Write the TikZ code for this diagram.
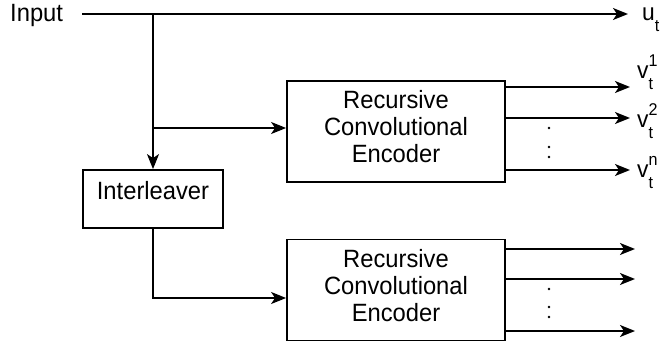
\documentclass[tikz,border=0pt]{standalone}
\usepackage{fontspec}
\setmainfont{Liberation Sans}[FakeStretch=0.95]
\usetikzlibrary{arrows.meta}
% symbol with a superscript and a subscript set one above the other
\newcommand\subsup[3]{#1\rlap{\raisebox{12pt}{\fontsize{17}{17}\selectfont #2}}\raisebox{-11pt}{\fontsize{17}{17}\selectfont #3}}

\begin{document}
\begin{tikzpicture}[x=1pt,y=-1pt,
  wire/.style={line width=1.8pt},
  flow/.style={wire,-{Stealth[length=15pt,width=12pt,inset=4pt]}},
  encbox/.style={draw,line width=1.8pt,minimum width=218pt,minimum height=101pt,inner sep=0pt},
  ilvbox/.style={draw,line width=1.8pt,minimum width=140pt,minimum height=58pt,inner sep=0pt},
  txt/.style={font=\fontsize{25}{27}\selectfont,inner sep=0pt},
  lab/.style={font=\fontsize{24}{27}\selectfont,inner sep=0pt},
  dot/.style={fill=black}]
\useasboundingbox (0,0) rectangle (670,345);

% blocks
\node[encbox] (enc1) at (396,131.5) {};
\node[encbox] (enc2) at (396,290) {};
\node[ilvbox] (ilv) at (153,199) {};
\node[txt,align=center,anchor=north] (enc1t) at (396,90) {Recursive\\Convolutional\\Encoder};
\node[txt,align=center,anchor=north] (enc2t) at (396,249) {Recursive\\Convolutional\\Encoder};
\node[txt,anchor=base] (ilvt) at (153,199) {Interleaver};

% input and systematic output
\node[txt,anchor=base west] (in) at (10,22) {Input};
\coordinate (inEnd) at (82,14);
\coordinate (split) at (153,14);
\coordinate (branch) at (153,128);
\coordinate (uTip) at (628,14);
\draw[flow] (inEnd) -- (uTip);
\node[lab,anchor=base west] (u) at (642,21) {\subsup{u}{}{t}};

% feeds into the encoders
\draw[flow] (split) -- (ilv.north);
\draw[flow] (branch) -- (enc1.west |- branch);
\draw[flow] (ilv.south) |- ([yshift=-8pt]enc2.west);

% parity outputs of the first encoder
\coordinate (v1) at (630,87);
\coordinate (v2) at (630,118);
\coordinate (vn) at (630,170);
\draw[flow] (enc1.east |- v1) -- (v1);
\draw[flow] (enc1.east |- v2) -- (v2);
\draw[flow] (enc1.east |- vn) -- (vn);
\node[lab,anchor=base west] (v1t) at (637,78) {\subsup{v}{1}{t}};
\node[lab,anchor=base west] (v2t) at (637,128) {\subsup{v}{2}{t}};
\node[lab,anchor=base west] (vnt) at (637,177) {\subsup{v}{n}{t}};
\fill[dot] (549,128) circle (1.4pt) (549,147) circle (1.4pt) (549,157) circle (1.4pt);

% outputs of the second encoder
\coordinate (w1) at (635,249);
\coordinate (w2) at (635,279);
\coordinate (wn) at (635,331);
\draw[flow] (enc2.east |- w1) -- (w1);
\draw[flow] (enc2.east |- w2) -- (w2);
\draw[flow] (enc2.east |- wn) -- (wn);
\fill[dot] (549,289) circle (1.4pt) (549,307) circle (1.4pt) (549,317) circle (1.4pt);
\end{tikzpicture}
\end{document}
